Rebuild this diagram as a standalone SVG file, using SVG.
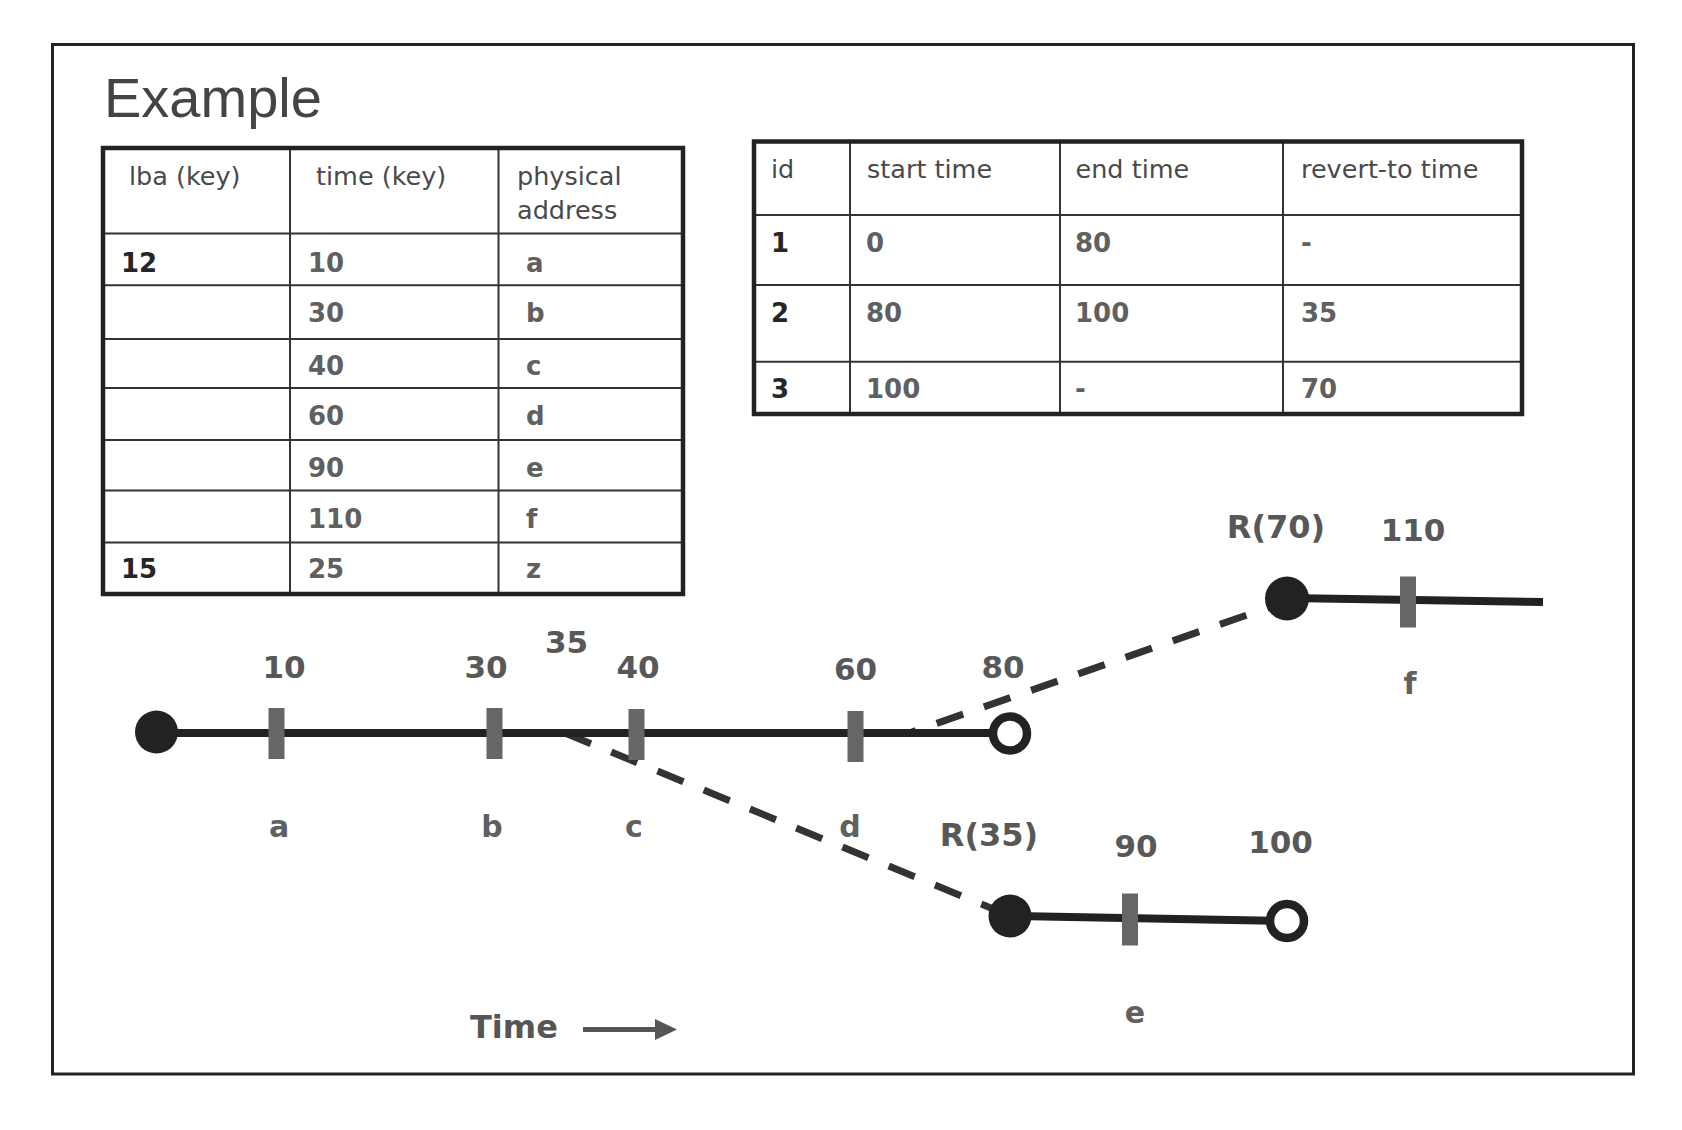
<svg xmlns="http://www.w3.org/2000/svg" width="1682" height="1130" viewBox="0 0 1682 1130">
<style>
.hdr{font-family:"DejaVu Sans",Verdana,sans-serif;font-size:25.5px;fill:#4a4a4a}
.dat{font-family:"DejaVu Sans",Verdana,sans-serif;font-size:26px;font-weight:bold;fill:#606060}
.key{fill:#262626}
.lbl{font-family:"DejaVu Sans",Verdana,sans-serif;font-size:31px;font-weight:bold;fill:#585858;text-anchor:middle}
.ltr{font-family:"DejaVu Sans",Verdana,sans-serif;font-size:30px;font-weight:bold;fill:#606060;text-anchor:middle}
.rl{font-size:32px}
.outer{fill:none;stroke:#222;stroke-width:4.5}
.grid{stroke:#333;stroke-width:2}
.tl{stroke:#222;stroke-width:8;fill:none}
.tick{fill:#666}
.dot{fill:#222}
.open{fill:#fff;stroke:#222;stroke-width:8.5}
.dash{stroke:#333;stroke-width:7;stroke-dasharray:28 22;fill:none}
</style>
<rect width="1682" height="1130" fill="#fff"/>
<rect x="52.5" y="44.5" width="1581" height="1029.5" fill="none" stroke="#222" stroke-width="3"/>
<text x="104" y="117" font-family="Liberation Sans,Arial,sans-serif" font-size="56" fill="#444">Example</text>

<g id="table-lba">
<line class="grid" x1="290" y1="148" x2="290" y2="594"/>
<line class="grid" x1="498.5" y1="148" x2="498.5" y2="594"/>
<line class="grid" x1="103" y1="233.5" x2="683" y2="233.5"/>
<line class="grid" x1="103" y1="285.3" x2="683" y2="285.3"/>
<line class="grid" x1="103" y1="338.9" x2="683" y2="338.9"/>
<line class="grid" x1="103" y1="388.1" x2="683" y2="388.1"/>
<line class="grid" x1="103" y1="439.9" x2="683" y2="439.9"/>
<line class="grid" x1="103" y1="490.6" x2="683" y2="490.6"/>
<line class="grid" x1="103" y1="542.4" x2="683" y2="542.4"/>
<rect class="outer" x="103" y="148" width="580" height="446"/>
<text class="hdr" x="129" y="185">lba (key)</text>
<text class="hdr" x="316" y="185">time (key)</text>
<text class="hdr" x="517" y="185">physical</text>
<text class="hdr" x="517" y="219">address</text>
<text class="dat key" x="121" y="272">12</text>
<text class="dat" x="308" y="272">10</text>
<text class="dat" x="526" y="272">a</text>
<text class="dat" x="308" y="321.5">30</text>
<text class="dat" x="526" y="321.5">b</text>
<text class="dat" x="308" y="375">40</text>
<text class="dat" x="526" y="375">c</text>
<text class="dat" x="308" y="425">60</text>
<text class="dat" x="526" y="425">d</text>
<text class="dat" x="308" y="477">90</text>
<text class="dat" x="526" y="477">e</text>
<text class="dat" x="308" y="527.5">110</text>
<text class="dat" x="526" y="527.5">f</text>
<text class="dat key" x="121" y="577.5">15</text>
<text class="dat" x="308" y="577.5">25</text>
<text class="dat" x="526" y="577.5">z</text>
</g>

<g id="table-snapshots">
<line class="grid" x1="850" y1="141.5" x2="850" y2="414"/>
<line class="grid" x1="1060" y1="141.5" x2="1060" y2="414"/>
<line class="grid" x1="1283" y1="141.5" x2="1283" y2="414"/>
<line class="grid" x1="754" y1="215" x2="1522" y2="215"/>
<line class="grid" x1="754" y1="285" x2="1522" y2="285"/>
<line class="grid" x1="754" y1="361.7" x2="1522" y2="361.7"/>
<rect class="outer" x="754" y="141.5" width="768" height="272.5"/>
<text class="hdr" x="771" y="178">id</text>
<text class="hdr" x="867" y="178">start time</text>
<text class="hdr" x="1075.5" y="178">end time</text>
<text class="hdr" x="1301" y="178">revert-to time</text>
<text class="dat key" x="771" y="251.7">1</text>
<text class="dat" x="866" y="251.7">0</text>
<text class="dat" x="1075" y="251.7">80</text>
<text class="dat" x="1301" y="251.7">-</text>
<text class="dat key" x="771" y="321.7">2</text>
<text class="dat" x="866" y="321.7">80</text>
<text class="dat" x="1075" y="321.7">100</text>
<text class="dat" x="1301" y="321.7">35</text>
<text class="dat key" x="771" y="398.3">3</text>
<text class="dat" x="866" y="398.3">100</text>
<text class="dat" x="1075" y="398.3">-</text>
<text class="dat" x="1301" y="398.3">70</text>
</g>

<g id="connectors">
<line class="dash" x1="565" y1="733" x2="1008" y2="915"/>
<line class="dash" x1="912" y1="732" x2="1287" y2="601" stroke-dashoffset="23.8"/>
</g>

<g id="timeline-main">
<line class="tl" x1="156" y1="733" x2="1010" y2="733"/>
<rect class="tick" x="268.5" y="708" width="16" height="51"/>
<rect class="tick" x="486.5" y="708" width="16" height="51"/>
<rect class="tick" x="628.5" y="709" width="16" height="51"/>
<rect class="tick" x="847.5" y="711" width="16" height="51"/>
<circle class="dot" cx="156.5" cy="732" r="21.5"/>
<circle class="open" cx="1010" cy="733.5" r="17"/>
<text class="lbl" x="284" y="678">10</text>
<text class="lbl" x="486" y="678">30</text>
<text class="lbl" x="566.5" y="653">35</text>
<text class="lbl" x="638" y="678">40</text>
<text class="lbl" x="855.5" y="680">60</text>
<text class="lbl" x="1003" y="678">80</text>
<text class="ltr" x="279" y="837">a</text>
<text class="ltr" x="492" y="837">b</text>
<text class="ltr" x="634" y="837">c</text>
<text class="ltr" x="850" y="837">d</text>
</g>

<g id="timeline-r35">
<line class="tl" x1="1010" y1="916" x2="1287" y2="921"/>
<rect class="tick" x="1122" y="893.5" width="16" height="52"/>
<circle class="dot" cx="1010" cy="916" r="21.5"/>
<circle class="open" cx="1287" cy="921" r="17"/>
<text class="lbl rl" x="989" y="846">R(35)</text>
<text class="lbl" x="1136" y="857">90</text>
<text class="lbl" x="1280.5" y="853">100</text>
<text class="ltr" x="1135" y="1023">e</text>
</g>

<g id="timeline-r70">
<line class="tl" x1="1287" y1="598" x2="1543" y2="602"/>
<rect class="tick" x="1400" y="576.5" width="16" height="51"/>
<circle class="dot" cx="1287" cy="598.5" r="22"/>
<text class="lbl rl" x="1276" y="538">R(70)</text>
<text class="lbl" x="1413" y="541">110</text>
<text class="ltr" x="1410" y="694">f</text>
</g>

<g id="time-axis">
<text x="470" y="1038" font-family="DejaVu Sans,Verdana,sans-serif" font-size="32" font-weight="bold" fill="#555">Time</text>
<line x1="583" y1="1029.5" x2="658" y2="1029.5" stroke="#555" stroke-width="5"/>
<polygon points="655,1019 677,1029.5 655,1040" fill="#555"/>
</g>
</svg>
